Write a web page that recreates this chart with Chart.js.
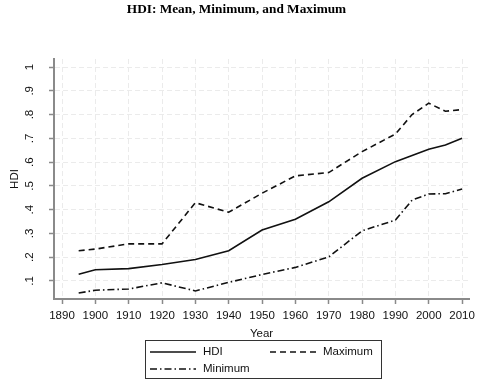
<!DOCTYPE html>
<html>
<head>
<meta charset="utf-8">
<script src="https://cdn.jsdelivr.net/npm/chart.js@4.4.0/dist/chart.umd.min.js"></script>
<style>
  html, body { margin: 0; padding: 0; background: #ffffff; }
  #wrap { width: 480px; height: 380px; position: relative; }
</style>
</head>
<body>
<div id="wrap"><canvas id="c" width="480" height="380"></canvas></div>
<script>
// ---- data ----
const years   = [1895, 1900, 1910, 1920, 1930, 1940, 1950, 1960, 1970, 1980, 1990, 1995, 2000, 2005, 2010];
const hdiMean = [0.128, 0.147, 0.152, 0.169, 0.190, 0.227, 0.314, 0.360, 0.433, 0.532, 0.602, 0.628, 0.654, 0.672, 0.700];
const hdiMax  = [0.227, 0.234, 0.256, 0.256, 0.429, 0.389, 0.469, 0.542, 0.556, 0.644, 0.718, 0.800, 0.848, 0.814, 0.821];
const hdiMin  = [0.049, 0.061, 0.066, 0.092, 0.058, 0.094, 0.127, 0.157, 0.201, 0.311, 0.356, 0.440, 0.466, 0.467, 0.487];
const seriesNames = ['HDI', 'Maximum', 'Minimum'];
const xTicks = [1890, 1900, 1910, 1920, 1930, 1940, 1950, 1960, 1970, 1980, 1990, 2000, 2010];
const yTicks = [0.1, 0.2, 0.3, 0.4, 0.5, 0.6, 0.7, 0.8, 0.9, 1.0];
const titleText = 'HDI: Mean, Minimum, and Maximum';
const xTitle = 'Year';
const yTitle = 'HDI';

const SANS = "'Liberation Sans', Arial, sans-serif";
const SERIF = "'Liberation Serif', 'Times New Roman', serif";
const AXIS_GRAY = '#8a8a8a';

function pts(vals) { return years.map((yr, i) => ({ x: yr, y: vals[i] })); }

const dashes = { solid: [], dash: [6, 4], dashdot: [7, 3, 1.5, 3] };

const legendPlugin = {
  id: 'stataLegend',
  afterDraw(chart) {
    const ctx = chart.ctx;
    const boxL = 145.5, boxT = 340.5, boxW = 236, boxH = 38;
    ctx.save();
    ctx.strokeStyle = '#333333';
    ctx.lineWidth = 1;
    ctx.setLineDash([]);
    ctx.strokeRect(boxL, boxT, boxW, boxH);
    const cols = [150, 270];
    const rows = [352, 369];
    chart.data.datasets.forEach((ds, i) => {
      const col = i % 2, row = Math.floor(i / 2);
      const x0 = cols[col], y = rows[row];
      ctx.beginPath();
      ctx.setLineDash(ds.borderDash || []);
      ctx.strokeStyle = ds.borderColor;
      ctx.lineWidth = ds.borderWidth;
      ctx.moveTo(x0, y);
      ctx.lineTo(x0 + 46, y);
      ctx.stroke();
      ctx.setLineDash([]);
      ctx.fillStyle = '#111111';
      ctx.font = '11.5px ' + SANS;
      ctx.textAlign = 'left';
      ctx.textBaseline = 'middle';
      ctx.fillText(ds.label, x0 + 53, y);
    });
    ctx.restore();
  }
};

new Chart(document.getElementById('c'), {
  type: 'line',
  data: {
    datasets: [
      { label: seriesNames[0], data: pts(hdiMean), borderColor: '#111111', borderWidth: 1.6, borderDash: dashes.solid, pointRadius: 0, fill: false, tension: 0 },
      { label: seriesNames[1], data: pts(hdiMax),  borderColor: '#111111', borderWidth: 1.6, borderDash: dashes.dash, pointRadius: 0, fill: false, tension: 0 },
      { label: seriesNames[2], data: pts(hdiMin),  borderColor: '#111111', borderWidth: 1.6, borderDash: dashes.dashdot, pointRadius: 0, fill: false, tension: 0 }
    ]
  },
  options: {
    responsive: false,
    animation: false,
    devicePixelRatio: 1,
    layout: { padding: { left: 0, right: 7, top: 0, bottom: 39 } },
    plugins: {
      legend: { display: false },
      tooltip: { enabled: false },
      title: {
        display: true,
        text: titleText,
        color: '#000000',
        font: { family: SERIF, size: 13.3, weight: 'bold' },
        padding: { top: 1.5, bottom: 41.5 }
      }
    },
    scales: {
      x: {
        type: 'linear',
        min: 1887.6,
        max: 2012.1,
        afterBuildTicks: (s) => { s.ticks = xTicks.map(v => ({ value: v })); },
        afterFit: (s) => { s.height = 42; },
        ticks: {
          color: '#111111',
          font: { family: SANS, size: 11.5 },
          padding: 5,
          maxRotation: 0,
          minRotation: 0,
          callback: (v) => String(v)
        },
        grid: { color: '#ebebeb', lineWidth: 1, drawTicks: true, tickLength: 5, tickColor: AXIS_GRAY, tickWidth: 1.5 },
        border: { display: true, color: AXIS_GRAY, width: 2, dash: [5, 3] },
        title: { display: true, text: xTitle, color: '#111111', font: { family: SANS, size: 11.5 }, padding: { top: 0, bottom: 0 } }
      },
      y: {
        type: 'linear',
        min: 0.024,
        max: 1.034,
        afterBuildTicks: (s) => { s.ticks = yTicks.map(v => ({ value: v })); },
        afterFit: (s) => { s.width = 54; },
        ticks: {
          color: '#111111',
          font: { family: SANS, size: 11.5 },
          padding: 14,
          minRotation: 90,
          maxRotation: 90,
          crossAlign: 'center',
          callback: (v) => (Math.abs(v - 1) < 1e-9 ? '1' : v.toFixed(1).replace(/^0/, ''))
        },
        grid: { color: '#ebebeb', lineWidth: 1, drawTicks: true, tickLength: 5, tickColor: AXIS_GRAY, tickWidth: 1.5 },
        border: { display: true, color: AXIS_GRAY, width: 2, dash: [5, 3] },
        title: { display: true, text: yTitle, color: '#111111', font: { family: SANS, size: 11.5 }, padding: { top: 8, bottom: 0 } }
      }
    }
  },
  plugins: [legendPlugin]
});
</script>
</body>
</html>
